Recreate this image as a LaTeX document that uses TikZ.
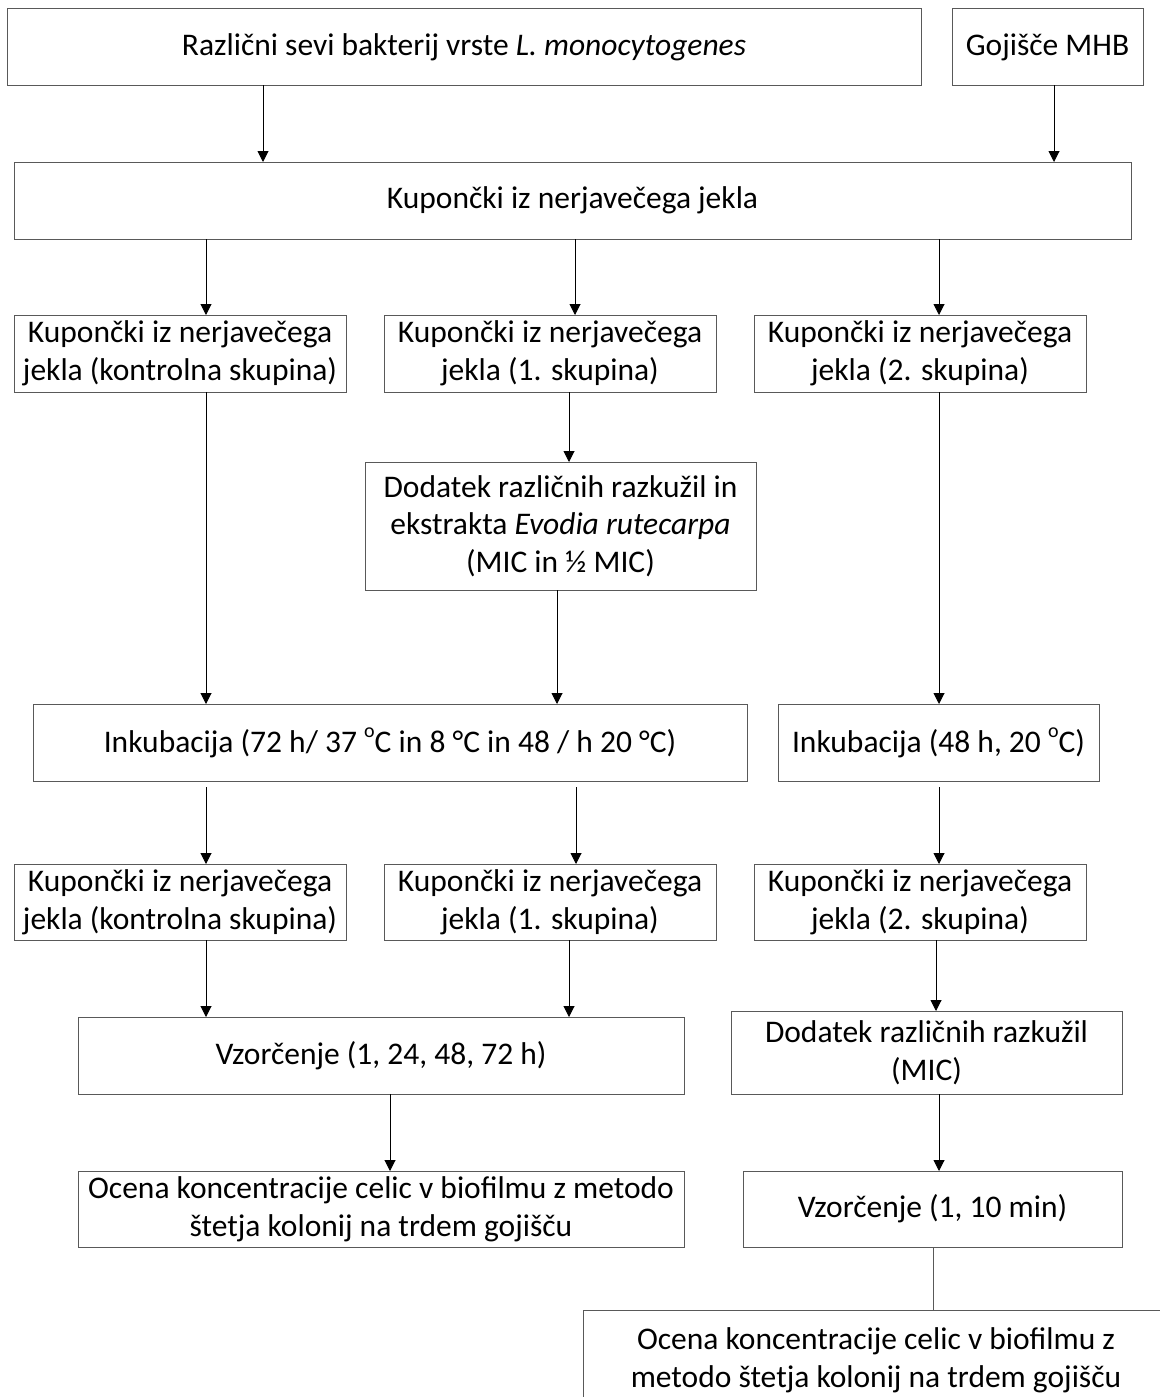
\documentclass[tikz,border=0pt]{standalone}
\usepackage{fontspec}
\setmainfont{Carlito}
\usetikzlibrary{arrows.meta}
\newcommand{\supo}{\raisebox{15pt}{\fontsize{20}{20}\selectfont o}}
\begin{document}
\begin{tikzpicture}[x=1pt,y=-1pt,
  box/.style={draw=black!65, line width=1pt, inner sep=0pt, outer sep=0pt, align=center,
              font=\fontsize{31.5}{37.6}\selectfont},
  arr/.style={draw=black, line width=1pt, -{Triangle[width=11pt,length=11pt]}},
  plainline/.style={draw=black!65, line width=1pt}]
\useasboundingbox (0,0) rectangle (1159,1397);
\fill[white] (0,0) rectangle (1159,1397);

% boxes
\node[box, minimum width=914pt, minimum height=76pt] (A) at (464,47)
  {Različni sevi bakterij vrste \textit{L. monocytogenes}};
\node[box, minimum width=191pt, minimum height=76pt] (B) at (1047.5,47) {Gojišče MHB};
\node[box, minimum width=1117pt, minimum height=77pt] (C) at (572.5,200.5)
  {Kupončki iz nerjavečega jekla};
\node[box, minimum width=332pt, minimum height=77pt] (D1) at (180,353.5)
  {Kupončki iz nerjavečega\\jekla (kontrolna skupina)};
\node[box, minimum width=332pt, minimum height=77pt] (D2) at (550,353.5)
  {Kupončki iz nerjavečega\\jekla (1. skupina)};
\node[box, minimum width=332pt, minimum height=77pt] (D3) at (920,353.5)
  {Kupončki iz nerjavečega\\jekla (2. skupina)};
\node[box, minimum width=391pt, minimum height=128pt] (E) at (560.5,526)
  {Dodatek različnih razkužil in\\ekstrakta \textit{Evodia rutecarpa}\\(MIC in ½ MIC)};
\node[box, minimum width=714pt, minimum height=77pt] (F) at (390,742.5)
  {Inkubacija (72 h/ 37 \supo C in 8 °C in 48 / h 20 °C)};
\node[box, minimum width=321pt, minimum height=77pt] (G) at (938.5,742.5)
  {Inkubacija (48 h, 20 \supo C)};
\node[box, minimum width=332pt, minimum height=76pt] (H1) at (180,902)
  {Kupončki iz nerjavečega\\jekla (kontrolna skupina)};
\node[box, minimum width=332pt, minimum height=76pt] (H2) at (550,902)
  {Kupončki iz nerjavečega\\jekla (1. skupina)};
\node[box, minimum width=332pt, minimum height=76pt] (H3) at (920,902)
  {Kupončki iz nerjavečega\\jekla (2. skupina)};
\node[box, minimum width=606pt, minimum height=77pt] (I) at (381,1055.5)
  {Vzorčenje (1, 24, 48, 72 h)};
\node[box, minimum width=391pt, minimum height=83pt] (J) at (926.5,1052.5)
  {Dodatek različnih razkužil\\(MIC)};
\node[box, minimum width=606pt, minimum height=76pt] (K) at (381,1209)
  {Ocena koncentracije celic v biofilmu z metodo\\štetja kolonij na trdem gojišču};
\node[box, minimum width=379pt, minimum height=76pt] (L) at (932.5,1209)
  {Vzorčenje (1, 10 min)};
\node[box, minimum width=586pt, minimum height=100pt] (M) at (876,1360)
  {Ocena koncentracije celic v biofilmu z\\metodo štetja kolonij na trdem gojišču};

% connector x positions
\coordinate (xa) at (263,0);
\coordinate (xb) at (1054,0);
\coordinate (x1) at (206,0);
\coordinate (x2) at (575,0);
\coordinate (x3) at (939,0);
\coordinate (xc) at (569,0);
\coordinate (xd) at (557,0);
\coordinate (xe) at (576,0);
\coordinate (xf) at (936,0);
\coordinate (xg) at (390,0);
\coordinate (xh) at (933,0);

% connectors
\draw[arr] (A.south -| xa) -- (C.north -| xa);
\draw[arr] (B.south -| xb) -- (C.north -| xb);
\draw[arr] (C.south -| x1) -- (D1.north -| x1);
\draw[arr] (C.south -| x2) -- (D2.north -| x2);
\draw[arr] (C.south -| x3) -- (D3.north -| x3);
\draw[arr] (D2.south -| xc) -- (E.north -| xc);
\draw[arr] (D1.south -| x1) -- (F.north -| x1);
\draw[arr] (E.south -| xd) -- (F.north -| xd);
\draw[arr] (D3.south -| x3) -- (G.north -| x3);
\draw[arr] ([yshift=-6pt]F.south -| x1) -- (H1.north -| x1);
\draw[arr] ([yshift=-6pt]F.south -| xe) -- (H2.north -| xe);
\draw[arr] ([yshift=-6pt]G.south -| x3) -- (H3.north -| x3);
\draw[arr] (H1.south -| x1) -- (I.north -| x1);
\draw[arr] (H2.south -| xc) -- (I.north -| xc);
\draw[arr] (H3.south -| xf) -- (J.north -| xf);
\draw[arr] (I.south -| xg) -- (K.north -| xg);
\draw[arr] (J.south -| x3) -- (L.north -| x3);
\draw[plainline] (L.south -| xh) -- (M.north -| xh);
\end{tikzpicture}
\end{document}
